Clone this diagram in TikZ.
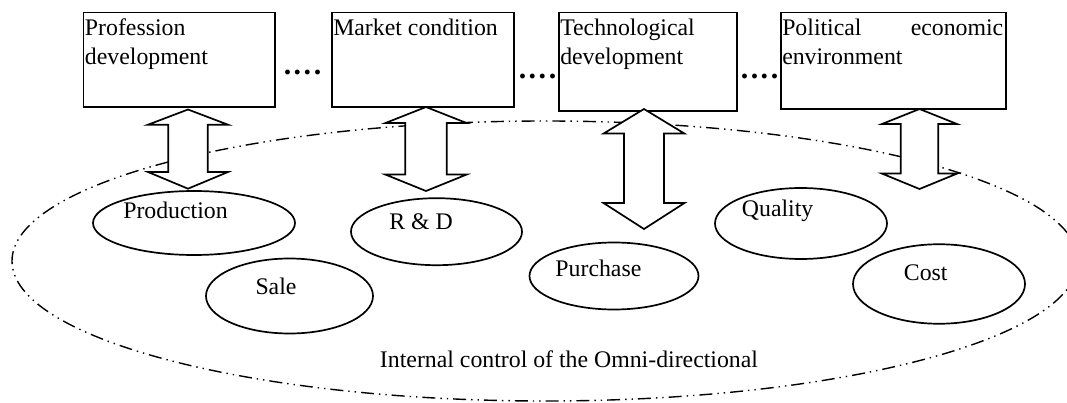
\documentclass[tikz,border=0pt]{standalone}
\usepackage{fontspec}
\setmainfont{Liberation Serif}
\usetikzlibrary{shapes.geometric,calc}
\tikzset{
  txt/.style={font=\fontsize{23.8}{29}\selectfont, inner sep=0pt},
  boxsty/.style={draw, line width=1.5pt, fill=white, rectangle, inner sep=0pt},
  ellsty/.style={draw, line width=1.7pt, fill=white, ellipse, inner sep=0pt},
  bigell/.style={draw, line width=1.4pt, ellipse, inner sep=0pt,
    dash pattern=on 13pt off 5pt on 1.4pt off 5pt on 1.4pt off 5pt},
  arrsty/.style={draw, line width=1.7pt, fill=white, line join=miter},
  dotsty/.style={font=\fontsize{30}{34}\selectfont\bfseries, inner sep=0pt}
}
\newcommand\dblarr[6]{%
  \draw[arrsty] (#1) -- ($(#1)+(#3,#5)$) -- ($(#1)+(#4,#5)$) -- ($(#2)+(#4,-#6)$)
    -- ($(#2)+(#3,-#6)$) -- (#2) -- ($(#2)+(-#3,-#6)$) -- ($(#2)+(-#4,-#6)$)
    -- ($(#1)+(-#4,#5)$) -- ($(#1)+(-#3,#5)$) -- cycle;}
\begin{document}
\begin{tikzpicture}[x=1pt,y=-1pt]
\useasboundingbox (0,0) rectangle (1067,403);
\fill[white] (0,0) rectangle (1067,403);

% big dash-dot ellipse
\node[bigell, minimum width=1066pt, minimum height=280pt] (omni) at (545,261) {};

% small ellipses
\node[ellsty, minimum width=202pt, minimum height=64pt] (prod) at (194,223) {};
\node[ellsty, minimum width=171pt, minimum height=67pt] (rd) at (436.5,231.7) {};
\node[ellsty, minimum width=167pt, minimum height=75pt] (sale) at (289.5,296) {};
\node[ellsty, minimum width=172pt, minimum height=71pt] (qual) at (801,223.5) {};
\node[ellsty, minimum width=169pt, minimum height=67pt] (purch) at (614,276) {};
\node[ellsty, minimum width=172pt, minimum height=79.5pt] (cost) at (939,284) {};

\node[txt, anchor=base] at (175.5,219) {Production};
\node[txt, anchor=base] at (421,229.3) {R \& D};
\node[txt, anchor=base] at (276,294.7) {Sale};
\node[txt, anchor=base] at (777.6,216.4) {Quality};
\node[txt, anchor=base] at (598.4,276) {Purchase};
\node[txt, anchor=base] at (925.7,280.5) {Cost};
\node[txt, anchor=base] (omnitxt) at (569,367.7) {Internal control of the Omni-directional};

% top boxes
\node[boxsty, minimum width=191.3pt, minimum height=94.3pt] (b1) at (179.35,59.85) {};
\node[boxsty, minimum width=182pt, minimum height=94.3pt] (b2) at (423,59.85) {};
\node[boxsty, minimum width=178pt, minimum height=98.3pt] (b3) at (648,61.85) {};
\node[boxsty, minimum width=225pt, minimum height=96.3pt] (b4) at (893.5,60.85) {};

\node[txt, anchor=base west] at ($(b1.north west)+(1.8,23.5)$) {\parbox[t]{185pt}{Profession\\development}};
\node[txt, anchor=base west] at ($(b2.north west)+(1.8,23.5)$) {\parbox[t]{178pt}{Market condition}};
\node[txt, anchor=base west] at ($(b3.north west)+(1.8,23.5)$) {\parbox[t]{174pt}{Technological\\development}};
\node[txt, anchor=base west] at ($(b4.north west)+(1.8,23.5)$) {\parbox[t]{221pt}{\makebox[221pt][s]{Political\hfill economic}\\environment}};

% ellipsis dots
\node[dotsty] (d1) at (302.5,72) {.\kern2.5pt.\kern2.5pt.\kern2.5pt.};
\node[dotsty] (d2) at (537.5,76) {.\kern2.5pt.\kern2.5pt.\kern2.5pt.};
\node[dotsty] (d3) at (759.5,76) {.\kern2.5pt.\kern2.5pt.\kern2.5pt.};

% double arrows
\coordinate (a1t) at (188,109.5);  \coordinate (a1b) at (188,188.7);
\coordinate (a2t) at (426,107);    \coordinate (a2b) at (426,191);
\coordinate (a3t) at (644,109);    \coordinate (a3b) at (644,229);
\coordinate (a4t) at (919.5,109);  \coordinate (a4b) at (919.5,189);
\dblarr{a1t}{a1b}{40}{19.8}{15.2}{16.7}
\dblarr{a2t}{a2b}{40.5}{20.8}{16}{16.4}
\dblarr{a3t}{a3b}{40.5}{20}{24.6}{26}
\dblarr{a4t}{a4b}{37.5}{18.8}{15}{15.4}
\end{tikzpicture}
\end{document}
